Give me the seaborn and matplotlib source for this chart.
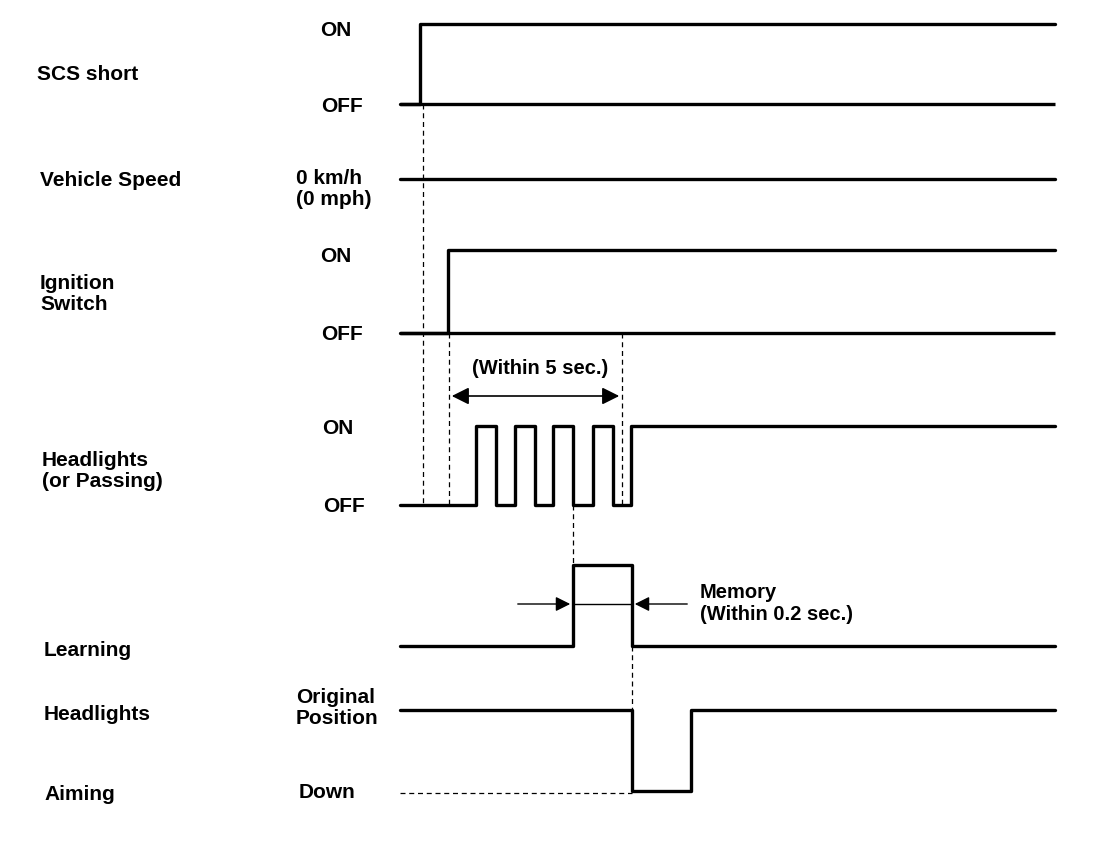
import matplotlib
matplotlib.use('Agg')
import matplotlib.pyplot as plt
import seaborn as sns

# transition times (horizontal units) and logic levels of every signal
scs_t = [400, 420, 1055]
scs_v = [0, 1, 1]
speed_t = [400, 1055]
speed_v = [0, 0]
ign_t = [400, 448, 1055]
ign_v = [0, 1, 1]
head_t = [400, 476, 496, 515, 535, 553, 573, 593, 613, 631, 1055]
head_v = [0, 1, 0, 1, 0, 1, 0, 1, 0, 1, 1]
learn_t = [400, 573, 632, 1055]
learn_v = [0, 1, 0, 0]
aim_t = [400, 632, 691, 1055]
aim_v = [1, 0, 1, 1]

signal_names = ['SCS short', 'Vehicle Speed', 'Ignition\nSwitch',
                'Headlights\n(or Passing)', 'Learning', 'Headlights', 'Aiming']
level_texts = ['ON', 'OFF', '0 km/h\n(0 mph)', 'ON', 'OFF', 'ON', 'OFF',
               'Original\nPosition', 'Down']

sns.set_theme(style='white')
plt.rcParams['font.family'] = ['Liberation Sans', 'DejaVu Sans']
plt.rcParams['font.weight'] = 'bold'
plt.rcParams['text.color'] = 'black'

fig = plt.figure(figsize=(11.2, 8.66), dpi=100)
ax = fig.add_axes([0, 0, 1, 1])
ax.set_xlim(0, 1120)
ax.set_ylim(866, 0)
ax.axis('off')

# lane: (y of level 0, y of level 1, draw off baseline)
lanes = [
    (scs_t, scs_v, 104, 24, True),
    (speed_t, speed_v, 179, 179, False),
    (ign_t, ign_v, 333, 250, True),
    (head_t, head_v, 505, 426, False),
    (learn_t, learn_v, 646, 565, False),
    (aim_t, aim_v, 791, 710, False),
]
for t, v, y0, y1, base in lanes:
    ys = [y0 + lv * (y1 - y0) for lv in v]
    sns.lineplot(x=t, y=ys, ax=ax, drawstyle='steps-post', estimator=None,
                 sort=False, color='black', linewidth=2.4)
    if base:
        ax.hlines(y0, t[0], t[-1], color='black', linewidth=2.4)

# dashed guides
dash = dict(color='black', linewidth=0.9, linestyles=(0, (4, 3)))
ax.vlines(423, 104, 505, **dash)
ax.vlines(449, 333, 505, **dash)
ax.vlines(622, 333, 505, **dash)
ax.vlines(573, 505, 565, **dash)
ax.vlines(632, 646, 791, **dash)
ax.hlines(793, 400, 632, **dash)

# within 5 sec arrow
ax.annotate('', xy=(449, 396), xytext=(622, 396),
            arrowprops=dict(arrowstyle='<|-|>', color='black', lw=1.2,
                            mutation_scale=26))
ax.text(540, 369, '(Within 5 sec.)', ha='center', va='center', fontsize=14.5)

# memory arrows
ax.annotate('', xy=(573, 604), xytext=(515, 604),
            arrowprops=dict(arrowstyle='-|>', color='black', lw=1, mutation_scale=22))
ax.annotate('', xy=(632, 604), xytext=(690, 604),
            arrowprops=dict(arrowstyle='-|>', color='black', lw=1, mutation_scale=22))
ax.hlines(604, 573, 632, color='black', linewidth=1)
ax.text(700, 593, 'Memory', ha='left', va='center', fontsize=14.5)
ax.text(700, 614, '(Within 0.2 sec.)', ha='left', va='center', fontsize=14.5)

# signal names
name_pos = [(37, 75), (40, 181), (40, 294), (42, 471), (44, 651), (44, 714), (44, 795)]
for name, (x, y) in zip(signal_names, name_pos):
    ax.text(x, y, name, ha='left', va='center', fontsize=15, linespacing=1.15)

# level labels
level_pos = [(320, 30), (321, 107), (296, 189), (320, 256), (321, 334),
             (322, 428), (323, 506), (296, 708), (299, 793)]
for txt, (x, y) in zip(level_texts, level_pos):
    ax.text(x, y, txt, ha='left', va='center', fontsize=15, linespacing=1.15)

fig.savefig('out.png', dpi=100, facecolor='white')
